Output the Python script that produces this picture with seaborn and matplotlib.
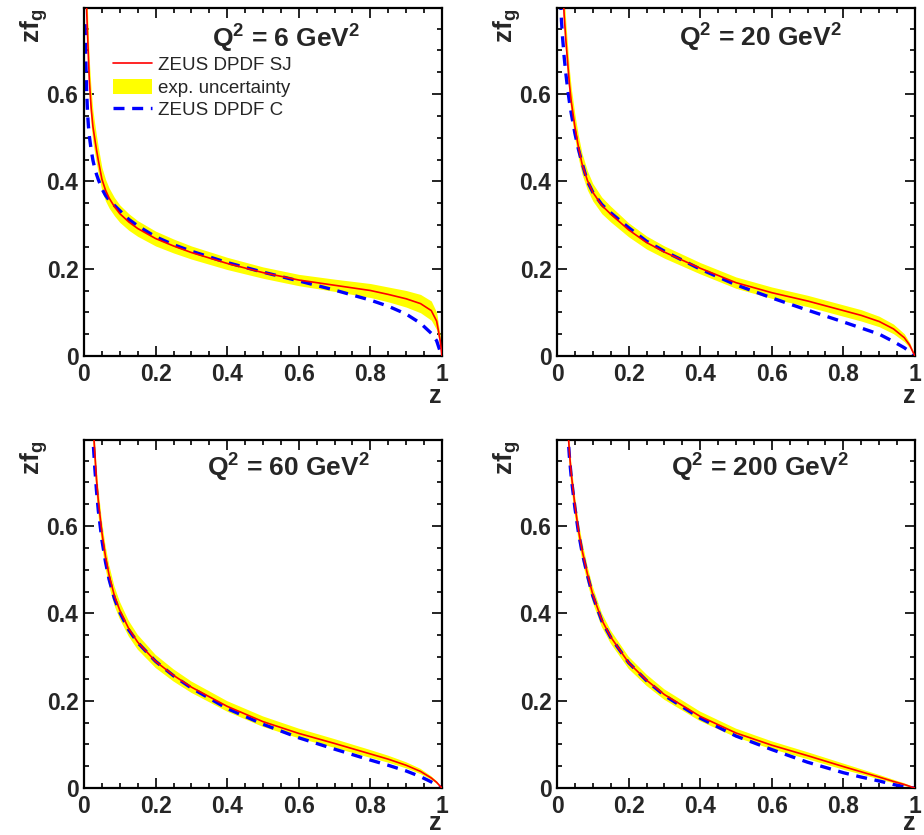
import numpy as np
import pandas as pd
import matplotlib
matplotlib.use("Agg")
import matplotlib.pyplot as plt
import seaborn as sns
from matplotlib.lines import Line2D
from matplotlib.patches import Patch
from matplotlib.ticker import MultipleLocator, FixedLocator, FixedFormatter

# ---------------- data ----------------
z = [0.003, 0.005, 0.0075, 0.01, 0.0125, 0.015, 0.02, 0.025, 0.03, 0.035, 0.04,
     0.05, 0.06, 0.07, 0.085, 0.1, 0.125, 0.15, 0.2, 0.25, 0.3, 0.4, 0.5, 0.6,
     0.7, 0.8, 0.85, 0.9, 0.94, 0.97, 0.985, 0.995, 1.0]

sj_6 = [0.95, 0.87, 0.79, 0.735, 0.68, 0.63, 0.568, 0.525, 0.498, 0.472, 0.448,
        0.405, 0.38, 0.362, 0.342, 0.326, 0.307, 0.292, 0.269, 0.252, 0.237, 0.212, 0.191, 0.174,
        0.162, 0.150, 0.141, 0.131, 0.120, 0.104, 0.080, 0.035, 0.0]
c_6 = [0.76, 0.68, 0.605, 0.555, 0.525, 0.503, 0.472, 0.448, 0.43, 0.416, 0.404,
       0.383, 0.368, 0.357, 0.345, 0.333, 0.313, 0.298, 0.273, 0.255, 0.240, 0.214, 0.192, 0.172,
       0.151, 0.128, 0.114, 0.096, 0.075, 0.052, 0.035, 0.010, 0.0]
err_6 = [0.06, 0.055, 0.052, 0.05, 0.047, 0.045, 0.04, 0.037, 0.034, 0.032, 0.030,
         0.027, 0.025, 0.023, 0.021, 0.020, 0.019, 0.018, 0.017, 0.016, 0.015, 0.014, 0.013, 0.013,
         0.014, 0.016, 0.017, 0.019, 0.021, 0.022, 0.020, 0.012, 0.0]

sj_20 = [1.6, 1.35, 1.15, 1.02, 0.94, 0.87, 0.78, 0.721, 0.67, 0.62, 0.582,
         0.525, 0.478, 0.44, 0.402, 0.375, 0.345, 0.325, 0.289, 0.260, 0.238, 0.201, 0.168, 0.145,
         0.126, 0.104, 0.093, 0.079, 0.062, 0.042, 0.025, 0.008, 0.0]
c_20 = [1.2, 1.02, 0.9, 0.815, 0.768, 0.735, 0.685, 0.645, 0.61, 0.58, 0.555,
        0.51, 0.473, 0.442, 0.40, 0.375, 0.347, 0.328, 0.294, 0.263, 0.240, 0.199, 0.163, 0.133,
        0.105, 0.078, 0.064, 0.050, 0.033, 0.019, 0.010, 0.003, 0.0]
err_20 = [0.08, 0.07, 0.062, 0.056, 0.052, 0.048, 0.043, 0.039, 0.036, 0.033, 0.031,
          0.028, 0.026, 0.024, 0.022, 0.020, 0.019, 0.018, 0.016, 0.015, 0.014, 0.013, 0.013, 0.013,
          0.013, 0.013, 0.013, 0.012, 0.011, 0.009, 0.006, 0.003, 0.0]

sj_60 = [2.1, 1.7, 1.45, 1.3, 1.18, 1.09, 0.95, 0.84, 0.77, 0.706, 0.658,
         0.585, 0.53, 0.488, 0.44, 0.407, 0.365, 0.334, 0.29, 0.258, 0.231, 0.187, 0.152, 0.125,
         0.102, 0.078, 0.066, 0.052, 0.038, 0.023, 0.013, 0.004, 0.0]
c_60 = [2.0, 1.6, 1.38, 1.23, 1.12, 1.03, 0.9, 0.80, 0.735, 0.68, 0.635,
        0.568, 0.518, 0.478, 0.434, 0.402, 0.362, 0.333, 0.290, 0.257, 0.229, 0.182, 0.146, 0.115,
        0.089, 0.064, 0.052, 0.039, 0.026, 0.014, 0.007, 0.002, 0.0]
err_60 = [0.08, 0.07, 0.062, 0.056, 0.052, 0.048, 0.043, 0.039, 0.036, 0.033, 0.031,
          0.028, 0.026, 0.024, 0.022, 0.020, 0.018, 0.017, 0.015, 0.014, 0.013, 0.012, 0.012, 0.011,
          0.010, 0.009, 0.008, 0.007, 0.006, 0.004, 0.003, 0.001, 0.0]

sj_200 = [2.6, 2.1, 1.75, 1.52, 1.36, 1.24, 1.06, 0.94, 0.83, 0.765, 0.718,
          0.648, 0.59, 0.545, 0.49, 0.443, 0.385, 0.346, 0.287, 0.247, 0.214, 0.164, 0.126, 0.098,
          0.074, 0.049, 0.037, 0.025, 0.015, 0.008, 0.004, 0.001, 0.0]
c_200 = [2.5, 2.0, 1.7, 1.48, 1.33, 1.21, 1.04, 0.92, 0.815, 0.755, 0.71,
         0.642, 0.585, 0.54, 0.487, 0.44, 0.383, 0.345, 0.287, 0.246, 0.212, 0.160, 0.119, 0.088,
         0.059, 0.035, 0.025, 0.016, 0.008, 0.003, 0.001, 0.0, 0.0]
err_200 = [0.07, 0.062, 0.055, 0.05, 0.046, 0.043, 0.038, 0.034, 0.031, 0.029, 0.027,
           0.024, 0.022, 0.021, 0.019, 0.018, 0.016, 0.015, 0.014, 0.013, 0.012, 0.011, 0.010, 0.009,
           0.008, 0.007, 0.006, 0.005, 0.004, 0.003, 0.002, 0.001, 0.0]

q2_values = ["6", "20", "60", "200"]
panel_sj = [sj_6, sj_20, sj_60, sj_200]
panel_c = [c_6, c_20, c_60, c_200]
panel_err = [err_6, err_20, err_60, err_200]

xtick_vals = [0, 0.2, 0.4, 0.6, 0.8, 1.0]
xtick_labels = ["0", "0.2", "0.4", "0.6", "0.8", "1"]
ytick_vals = [0, 0.2, 0.4, 0.6]
ytick_labels = ["0", "0.2", "0.4", "0.6"]

legend_labels = ["ZEUS DPDF SJ", "exp. uncertainty", "ZEUS DPDF C"]

# ---------------- style ----------------
sns.set_style("ticks")
plt.rcParams["font.family"] = ["Liberation Sans", "DejaVu Sans"]
plt.rcParams["mathtext.fontset"] = "custom"
plt.rcParams["mathtext.rm"] = "Liberation Sans:bold"
plt.rcParams["mathtext.it"] = "Liberation Sans:bold"
plt.rcParams["mathtext.bf"] = "Liberation Sans:bold"

W, H = 924, 835
fig = plt.figure(figsize=(W / 100, H / 100), dpi=100)
fig.patch.set_facecolor("white")

# axes rectangles in pixels: (left, top, right, bottom)
rects = [(84, 8, 442, 356), (557, 8, 915, 356),
         (84, 440, 442, 788), (557, 440, 915, 788)]
title_pos = [(0.358, 0.706), (0.341, 0.708), (0.344, 0.713), (0.318, 0.713)]
zlabel_base = [403, 403, 830, 830]

YELLOW = "#ffff00"
RED = "#ff0000"
BLUE = "#0000ff"
DASH = (0, (3.3, 2.3))

for i, (l, t, r, b) in enumerate(rects):
    ax = fig.add_axes([l / W, 1 - b / H, (r - l) / W, (b - t) / H])
    df = pd.DataFrame({"z": z, "sj": panel_sj[i], "c": panel_c[i], "err": panel_err[i]})
    ax.fill_between(df["z"], df["sj"] - df["err"], df["sj"] + df["err"],
                    color=YELLOW, lw=0, zorder=1)
    sns.lineplot(data=df, x="z", y="sj", color=RED, lw=1.2, ax=ax, zorder=3,
                 estimator=None, sort=False)
    sns.lineplot(data=df, x="z", y="c", color=BLUE, lw=2.4, ax=ax, zorder=2,
                 estimator=None, sort=False, linestyle=DASH)
    ax.set_xlim(0, 1)
    ax.set_ylim(0, 0.797)
    ax.set_xlabel("")
    ax.set_ylabel("")
    for sp in ax.spines.values():
        sp.set_visible(True)
        sp.set_linewidth(1.6)
        sp.set_color("black")
    ax.xaxis.set_major_locator(FixedLocator(xtick_vals))
    ax.xaxis.set_major_formatter(FixedFormatter(xtick_labels))
    ax.yaxis.set_major_locator(FixedLocator(ytick_vals))
    ax.yaxis.set_major_formatter(FixedFormatter(ytick_labels))
    ax.xaxis.set_minor_locator(MultipleLocator(0.05))
    ax.yaxis.set_minor_locator(MultipleLocator(0.05))
    ax.tick_params(which="both", direction="in", top=True, right=True,
                   width=1.2, color="black")
    ax.tick_params(which="major", length=7.5)
    ax.tick_params(which="minor", length=3.8)
    ax.tick_params(axis="x", which="major", pad=5, labelsize=16.5)
    ax.tick_params(axis="y", which="major", pad=4, labelsize=16.5)
    for lab in ax.get_xticklabels() + ax.get_yticklabels():
        lab.set_fontweight("bold")
    tx, ty = title_pos[i]
    ax.text(tx, ty, "Q$^{2}$ = " + q2_values[i] + " GeV$^{2}$", fontsize=19,
            fontweight="bold", ha="left", va="baseline", transform=ax.transData)
    # axis titles
    fig.text(r / W, 1 - zlabel_base[i] / H, "z", fontsize=18, fontweight="bold",
             ha="right", va="baseline")
    fig.text((l - 66) / W, 1 - (t + 1) / H, "zf$_{\\mathrm{g}}$", fontsize=19,
             fontweight="bold", rotation=90, ha="left", va="top")
    if i == 0:
        handles = [Line2D([], [], color=RED, lw=1.2),
                   Patch(facecolor=YELLOW, edgecolor="none"),
                   Line2D([], [], color=BLUE, lw=2.4, linestyle=DASH)]
        ax.legend(handles, legend_labels, loc="upper left",
                  bbox_to_anchor=(0.081, 0.862), frameon=False, fontsize=13.5,
                  handlelength=2.1, handleheight=0.85, handletextpad=0.3,
                  labelspacing=0.25, borderaxespad=0, borderpad=0)

fig.savefig("out.png", dpi=100, facecolor="white")
